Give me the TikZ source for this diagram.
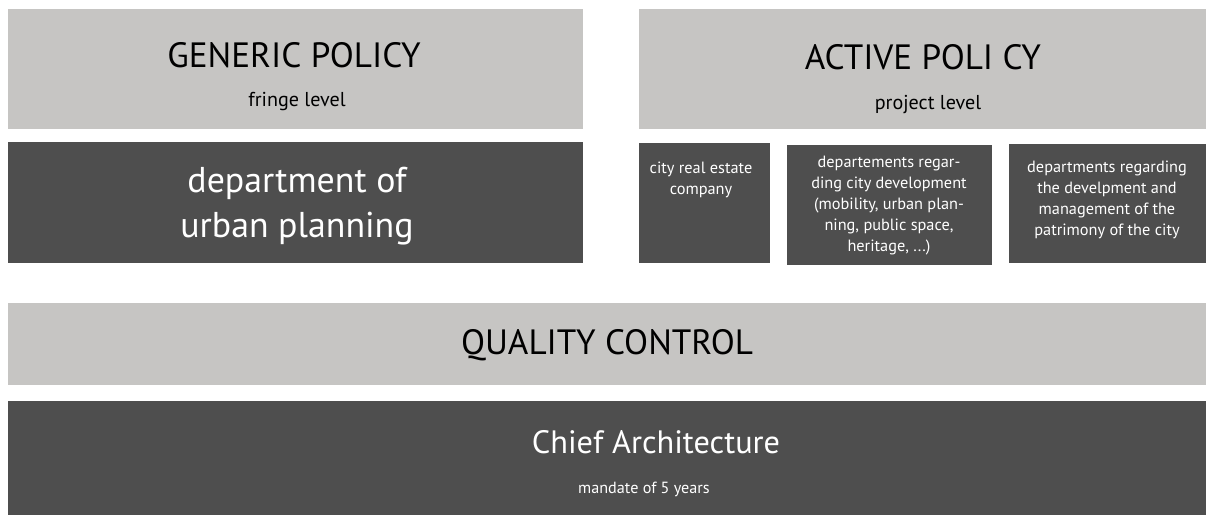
\documentclass[tikz,border=0pt]{standalone}
\usepackage{fontspec}
\setmainfont{PT Sans}
\definecolor{claro}{RGB}{198,197,195}
\definecolor{oscuro}{RGB}{78,78,78}

\begin{document}
\begin{tikzpicture}[x=0.025cm,y=-0.025cm,
    titulo/.style={font=\fontsize{25}{30}\selectfont},
    grande/.style={font=\fontsize{25.5}{32.5}\selectfont, text=white, align=center},
    sub/.style={font=\fontsize{14.3}{17}\selectfont},
    pequeno/.style={font=\fontsize{11.6}{15}\selectfont, text=white, align=center, anchor=north}]
    \useasboundingbox (0,0) rectangle (1206,515);

    % Cajas claras y oscuras
    \foreach \xa/\ya/\xb/\yb/\col in {8/9/583/129/claro, 639/9/1206/129/claro,
        8/142/583/263/oscuro, 639/143/770/263/oscuro, 787/145/992/265/oscuro,
        1009/144/1206/263/oscuro, 8/303/1206/385/claro, 8/401/1206/515/oscuro} {
        \fill[\col] (\xa,\ya) rectangle (\xb,\yb);
    }

    % Textos de la fila superior
    \node[titulo] (generica) at (294,55) {GENERIC POLICY};
    \node[sub] (borde) at (297,102) {fringe level};
    \node[titulo] (activa) at (923,57) {ACTIVE POLI CY};
    \node[sub] (proyecto) at (928,105) {project level};

    % Departamentos
    \node[grande] (urbanismo) at (297,206) {department of\\urban planning};
    \node[pequeno] (inmobiliaria) at (701,157) {city real estate\\company};
    \node[pequeno] (desarrollo) at (889,151) {departements regar-\\ding city development\\(mobility, urban plan-\\ning, public space,\\heritage, ...)};
    \node[pequeno] (patrimonio) at (1107,156) {departments regarding\\the develpment and\\management of the\\patrimony of the city};

    % Fila inferior
    \node[titulo] (calidad) at (607,345) {QUALITY CONTROL};
    \node[titulo, font=\fontsize{23}{28}\selectfont, text=white] (jefe) at (656,442) {Chief Architecture};
    \node[font=\fontsize{11.5}{13}\selectfont, text=white] (mandato) at (644,489) {mandate of 5 years};
\end{tikzpicture}
\end{document}
